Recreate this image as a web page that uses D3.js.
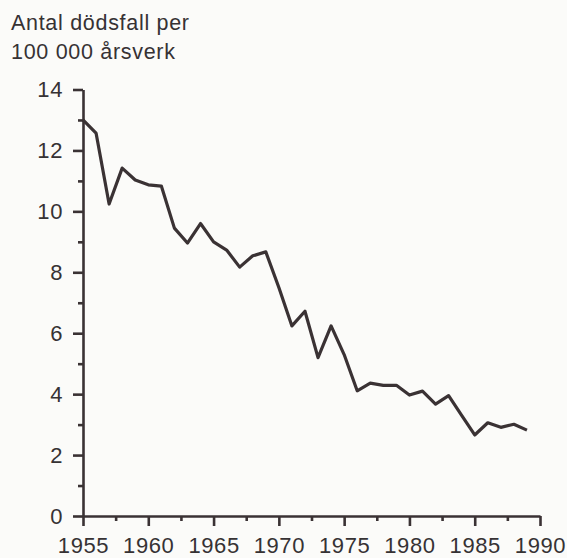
<!DOCTYPE html>
<html>
<head>
<meta charset="utf-8">
<script src="https://cdn.jsdelivr.net/npm/d3@7"></script>
<style>
  body { margin: 0; background: #fbfbf9; overflow: hidden; }
  svg { display: block; }
</style>
</head>
<body>
<script>
// fatal accidents per 100 000 man-years
var years = [1955, 1956, 1957, 1958, 1959, 1960, 1961, 1962, 1963, 1964,
             1965, 1966, 1967, 1968, 1969, 1970, 1971, 1972, 1973, 1974,
             1975, 1976, 1977, 1978, 1979, 1980, 1981, 1982, 1983, 1984,
             1985, 1986, 1987, 1988, 1989];
var deaths = [13.0, 12.57, 10.24, 11.42, 11.03, 10.87, 10.83, 9.45, 8.96, 9.6,
              9.0, 8.73, 8.17, 8.54, 8.67, 7.5, 6.24, 6.72, 5.2, 6.24,
              5.3, 4.11, 4.36, 4.29, 4.29, 3.97, 4.1, 3.67, 3.95, 3.3,
              2.66, 3.06, 2.91, 3.01, 2.82];
var xMajor = [1955, 1960, 1965, 1970, 1975, 1980, 1985, 1990];
var xMinor = [1957.5, 1962.5, 1967.5, 1972.5, 1977.5, 1982.5, 1987.5];
var yMajor = [0, 2, 4, 6, 8, 10, 12, 14];
var yMinor = [1, 3, 5, 7, 9, 11, 13];
var titleLines = ["Antal dödsfall per", "100 000 årsverk"];

var width = 567, height = 558;
var ink = "#3a3234";
var textInk = "#363234";
var font = "'Liberation Sans', Arial, Helvetica, sans-serif";

var svg = d3.select("body").append("svg")
    .attr("width", width)
    .attr("height", height);

var x = d3.scaleLinear().domain([1955, 1990]).range([83, 540]);
var y = d3.scaleLinear().domain([0, 14]).range([516, 89.5]);

// title
svg.append("g").selectAll("text")
    .data(titleLines)
    .enter()
    .append("text")
    .attr("x", 11)
    .attr("y", function(d, i) { return 30 + i * 29; })
    .attr("font-family", font)
    .attr("font-size", 21.5)
    .attr("letter-spacing", 0.7)
    .attr("fill", textInk)
    .text(function(d) { return d; });

function styleAxis(g) {
    g.selectAll("path, line")
        .attr("stroke", ink)
        .attr("stroke-width", 2.6);
    g.selectAll("text")
        .attr("font-family", font)
        .attr("font-size", 22)
        .attr("letter-spacing", 0.6)
        .attr("fill", textInk);
}

// x axis
svg.append("g")
    .attr("transform", "translate(0," + y(0) + ")")
    .call(d3.axisBottom(x).tickValues(xMinor).tickSize(5).tickSizeOuter(0).tickFormat(""))
    .call(styleAxis)
    .call(function(g) { g.select(".domain").remove(); });

svg.append("g")
    .attr("transform", "translate(0," + y(0) + ")")
    .call(d3.axisBottom(x).tickValues(xMajor).tickSize(10).tickSizeOuter(0)
        .tickPadding(11).tickFormat(d3.format("d")))
    .call(styleAxis);

// y axis
svg.append("g")
    .attr("transform", "translate(" + x(1955) + ",0)")
    .call(d3.axisLeft(y).tickValues(yMinor).tickSize(5).tickSizeOuter(0).tickFormat(""))
    .call(styleAxis)
    .call(function(g) { g.select(".domain").remove(); });

svg.append("g")
    .attr("transform", "translate(" + x(1955) + ",0)")
    .call(d3.axisLeft(y).tickValues(yMajor).tickSize(10).tickSizeOuter(0)
        .tickPadding(10).tickFormat(d3.format("d")))
    .call(styleAxis);

// line
var line = d3.line()
    .x(function(d, i) { return x(years[i]); })
    .y(function(d) { return y(d); });

svg.append("path")
    .datum(deaths)
    .attr("d", line)
    .attr("fill", "none")
    .attr("stroke", ink)
    .attr("stroke-width", 3.2)
    .attr("stroke-linejoin", "round");
</script>
</body>
</html>
